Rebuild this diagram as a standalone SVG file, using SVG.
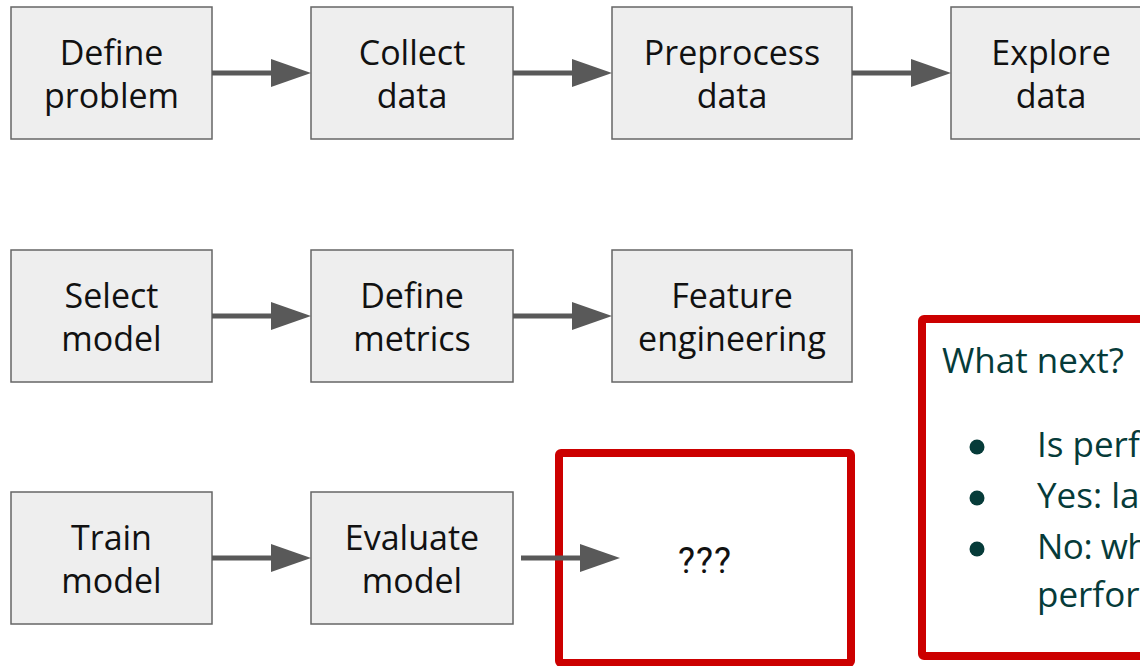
<svg xmlns="http://www.w3.org/2000/svg" width="1140" height="666" viewBox="0 0 1140 666">
  <style>
    .box { fill: #eeeeee; stroke: #666666; stroke-width: 1.5; }
    .lbl { font-family: "Open Sans", "Noto Sans", sans-serif; font-size: 34px; fill: #111111; text-anchor: middle; }
    .hl { fill: none; stroke: #cc0000; stroke-width: 8; stroke-linejoin: round; }
    .note { font-family: "Open Sans", "Noto Sans", sans-serif; font-size: 35px; fill: #063b39; }
    .dot { fill: #063b39; }
    .q { font-family: "Roboto", "Liberation Sans", sans-serif; font-size: 36px; fill: #111111; text-anchor: middle; letter-spacing: 1px; }
    .conn line { stroke: #595959; stroke-width: 5; marker-end: url(#head); }
  </style>
  <defs>
    <marker id="head" markerUnits="userSpaceOnUse" markerWidth="40" markerHeight="28" refX="19" refY="14" orient="auto">
      <path d="M0,0 L40,14 L0,28 z" fill="#595959"/>
    </marker>
  </defs>
  <rect width="1140" height="666" fill="#ffffff"/>

  <!-- row 1 -->
  <g id="define-problem">
    <rect class="box" x="11" y="7" width="201" height="132"/>
    <text class="lbl" x="111.5" y="65">Define</text>
    <text class="lbl" x="111.5" y="108">problem</text>
  </g>
  <g id="collect-data">
    <rect class="box" x="311" y="7" width="202" height="132"/>
    <text class="lbl" x="412" y="65">Collect</text>
    <text class="lbl" x="412" y="108">data</text>
  </g>
  <g id="preprocess-data">
    <rect class="box" x="612" y="7" width="240" height="132"/>
    <text class="lbl" x="732" y="65">Preprocess</text>
    <text class="lbl" x="732" y="108">data</text>
  </g>
  <g id="explore-data">
    <rect class="box" x="951" y="7" width="200" height="132"/>
    <text class="lbl" x="1051" y="65">Explore</text>
    <text class="lbl" x="1051" y="108">data</text>
  </g>

  <!-- row 2 -->
  <g id="select-model">
    <rect class="box" x="11" y="250" width="201" height="132"/>
    <text class="lbl" x="111.5" y="308">Select</text>
    <text class="lbl" x="111.5" y="351">model</text>
  </g>
  <g id="define-metrics">
    <rect class="box" x="311" y="250" width="202" height="132"/>
    <text class="lbl" x="412" y="308">Define</text>
    <text class="lbl" x="412" y="351">metrics</text>
  </g>
  <g id="feature-engineering">
    <rect class="box" x="612" y="250" width="240" height="132"/>
    <text class="lbl" x="732" y="308">Feature</text>
    <text class="lbl" x="732" y="351">engineering</text>
  </g>

  <!-- row 3 -->
  <g id="train-model">
    <rect class="box" x="11" y="492" width="201" height="132"/>
    <text class="lbl" x="111.5" y="550">Train</text>
    <text class="lbl" x="111.5" y="593">model</text>
  </g>
  <g id="evaluate-model">
    <rect class="box" x="311" y="492" width="202" height="132"/>
    <text class="lbl" x="412" y="550">Evaluate</text>
    <text class="lbl" x="412" y="593">model</text>
  </g>
  <g id="unknown-step">
    <rect class="hl" x="559" y="453" width="292" height="210" rx="2"/>
    <text class="q" x="705" y="573">???</text>
  </g>

  <!-- next steps panel -->
  <g id="what-next">
    <rect class="hl" x="922" y="319" width="240" height="337" rx="2"/>
    <text class="note" x="942" y="373">What next?</text>
    <circle class="dot" cx="977" cy="447" r="7.5"/>
    <circle class="dot" cx="977" cy="498" r="7.5"/>
    <circle class="dot" cx="977" cy="549" r="7.5"/>
    <text class="note" x="1037" y="457">Is perf</text>
    <text class="note" x="1037" y="508">Yes: la</text>
    <text class="note" x="1037" y="559" letter-spacing="-0.5">No: wh</text>
    <text class="note" x="1037" y="607">perfor</text>
  </g>

  <!-- connectors -->
  <g id="connectors" class="conn">
    <line x1="212" y1="73" x2="290" y2="73"/>
    <line x1="513" y1="73" x2="591" y2="73"/>
    <line x1="852" y1="73" x2="930" y2="73"/>
    <line x1="212" y1="316" x2="290" y2="316"/>
    <line x1="513" y1="316" x2="591" y2="316"/>
    <line x1="212" y1="558" x2="290" y2="558"/>
    <line x1="521" y1="558" x2="599" y2="558"/>
  </g>
</svg>
